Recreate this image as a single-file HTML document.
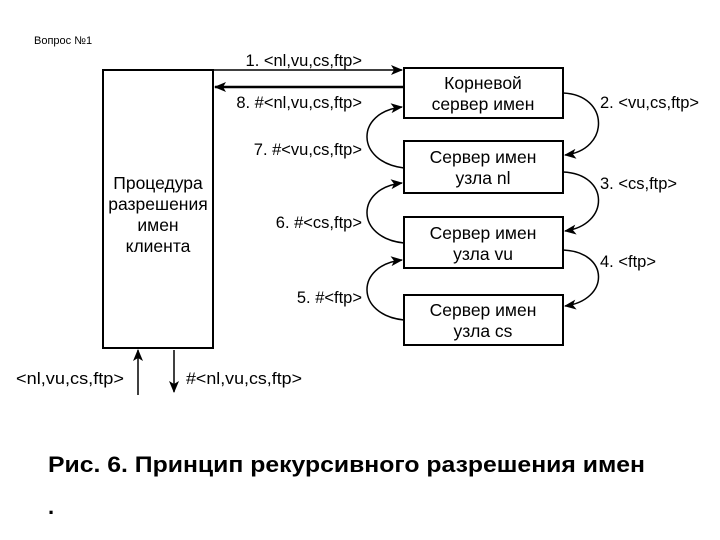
<!DOCTYPE html>
<html><head><meta charset="utf-8"><style>
html,body{margin:0;padding:0;background:#fff;}
svg{display:block;}
text{font-family:"Liberation Sans",sans-serif;fill:#000;}
</style></head><body>
<svg width="720" height="540" viewBox="0 0 720 540" xmlns="http://www.w3.org/2000/svg">
<defs>
<marker id="a" markerWidth="12" markerHeight="10" refX="11" refY="5" orient="auto" markerUnits="userSpaceOnUse">
<path d="M0,0 L12,5 L0,10 L3,5 Z" fill="#000"/></marker>
</defs>
<text x="34" y="44" font-size="11">Вопрос №1</text>
<g fill="none" stroke="#000" stroke-width="2">
<rect x="103" y="70" width="110" height="278"/>
<rect x="404" y="68" width="159" height="50"/>
<rect x="404" y="141" width="159" height="52"/>
<rect x="404" y="217" width="159" height="51"/>
<rect x="404" y="295" width="159" height="50"/>
</g>
<g fill="none" stroke="#000" stroke-width="1.5">
<line x1="213" y1="70" x2="402" y2="70" marker-end="url(#a)"/>
<line x1="403" y1="87" x2="215" y2="87" stroke-width="2.5" marker-end="url(#a)"/>
<line x1="138" y1="395" x2="138" y2="350" marker-end="url(#a)"/>
<line x1="174" y1="350" x2="174" y2="392" marker-end="url(#a)"/>
<path d="M563,93 C610,95 610,150 565,155" marker-end="url(#a)"/>
<path d="M563,172 C610,174 610,225 565,231" marker-end="url(#a)"/>
<path d="M563,250 C610,252 610,300 565,306" marker-end="url(#a)"/>
<path d="M404,168 C355,162 355,112 402,107" marker-end="url(#a)"/>
<path d="M404,243 C355,238 355,188 402,183" marker-end="url(#a)"/>
<path d="M404,320 C355,315 355,265 402,260" marker-end="url(#a)"/>
</g>
<g font-size="16.5">
<text x="362" y="66" text-anchor="end">1. &lt;nl,vu,cs,ftp&gt;</text>
<text x="362" y="108" text-anchor="end">8. #&lt;nl,vu,cs,ftp&gt;</text>
<text x="362" y="155" text-anchor="end">7. #&lt;vu,cs,ftp&gt;</text>
<text x="362" y="228" text-anchor="end">6. #&lt;cs,ftp&gt;</text>
<text x="362" y="303" text-anchor="end">5. #&lt;ftp&gt;</text>
<text x="600" y="108">2. &lt;vu,cs,ftp&gt;</text>
<text x="600" y="189">3. &lt;cs,ftp&gt;</text>
<text x="600" y="267">4. &lt;ftp&gt;</text>
<text x="16" y="384" textLength="108" lengthAdjust="spacingAndGlyphs">&lt;nl,vu,cs,ftp&gt;</text>
<text x="186" y="384" textLength="116" lengthAdjust="spacingAndGlyphs">#&lt;nl,vu,cs,ftp&gt;</text>
</g>
<g font-size="17.5" text-anchor="middle">
<text x="158" y="189">Процедура</text>
<text x="158" y="210">разрешения</text>
<text x="158" y="231">имен</text>
<text x="158" y="252">клиента</text>
<text x="483" y="89">Корневой</text>
<text x="483" y="110">сервер имен</text>
<text x="483" y="163">Сервер имен</text>
<text x="483" y="184">узла nl</text>
<text x="483" y="239">Сервер имен</text>
<text x="483" y="260">узла vu</text>
<text x="483" y="316">Сервер имен</text>
<text x="483" y="337">узла cs</text>
</g>
<text x="48" y="472" font-size="22" font-weight="bold" textLength="597" lengthAdjust="spacingAndGlyphs">Рис. 6. Принцип рекурсивного разрешения имен</text>
<text x="48" y="514" font-size="22" font-weight="bold">.</text>
</svg>
</body></html>
